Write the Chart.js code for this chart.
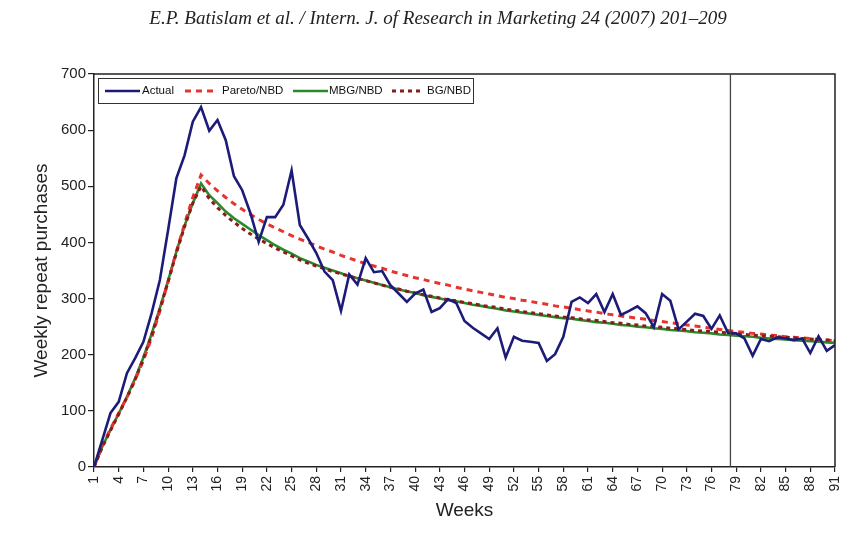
<!DOCTYPE html>
<html><head><meta charset="utf-8">
<script src="https://cdn.jsdelivr.net/npm/chart.js@4.4.0/dist/chart.umd.min.js"></script>
<style>html,body{margin:0;padding:0;background:#fff}#wrap{width:860px;height:535px}</style>
</head><body><div id="wrap"><canvas id="c" width="860" height="535"></canvas></div>
<script>
const weeks = [1,2,3,4,5,6,7,8,9,10,11,12,13,14,15,16,17,18,19,20,21,22,23,24,25,26,27,28,29,30,
  31,32,33,34,35,36,37,38,39,40,41,42,43,44,45,46,47,48,49,50,51,52,53,54,55,56,57,58,59,60,
  61,62,63,64,65,66,67,68,69,70,71,72,73,74,75,76,77,78,79,80,81,82,83,84,85,86,87,88,89,90,91];
const xTickLabels = [1,4,7,10,13,16,19,22,25,28,31,34,37,40,43,46,49,52,55,58,61,64,67,70,73,76,79,82,85,88,91];
const yTickLabels = [0,100,200,300,400,500,600,700];
const seriesNames = ['Actual','Pareto/NBD','MBG/NBD','BG/NBD'];
const actual = [0,48,96,116,167,194,223,274,333,422,514,555,615,641,599,618,582,518,493,452,
  401,445,445,467,528,431,407,381,348,333,278,343,325,372,347,349,324,309,294,309,
  316,276,283,299,292,260,248,238,228,247,195,232,225,223,221,189,201,232,294,302,
  292,308,276,308,271,278,286,274,249,308,296,245,259,273,269,246,270,239,238,229,
  198,228,224,231,229,226,229,203,233,207,217];
const paretoNBD = [0,38,68,96,124,155,190,230,278,330,384,433,480,520,505,492,480,469,459,450,
  441,433,426,419,412,406,400,394,388,383,377,372,367,362,358,354,349,345,341,337,
  334,330,327,324,320,317,314,311,308,305,302,300,297,295,292,290,287,285,283,280,
  278,276,273,271,269,267,265,263,261,259,257,255,253,251,249,247,245,243,241,240,
  238,237,235,234,232,231,230,229,227,226,225];
const mbgNBD = [0,36,66,95,125,158,195,237,283,332,383,430,470,505,484,470,455,443,433,423,
  413,404,395,387,380,372,366,360,355,350,345,340,336,332,328,324,320,316,313,310,
  306,303,300,297,295,292,289,287,284,282,279,277,275,273,271,269,267,265,264,262,
  260,258,257,255,253,252,250,249,247,246,244,243,242,240,239,238,236,235,234,233,
  232,230,229,228,227,226,225,224,223,222,221];
const bgNBD = [0,35,65,94,124,156,193,235,281,330,381,428,470,500,478,462,448,436,425,415,
  406,398,390,383,376,369,363,358,353,348,344,340,336,332,328,324,320,317,313,310,
  307,304,301,298,296,293,291,288,286,284,281,279,277,275,273,271,269,267,266,264,
  262,261,259,257,256,254,253,251,250,249,247,246,245,243,242,241,240,239,237,236,
  235,234,233,232,231,230,229,228,227,226,225];
const calibrationEnd = 78.3;

const toXY = arr => arr.map((v, i) => ({x: weeks[i], y: v}));
const styles = [
  {color:'#1c1c78', width:2.6, dash:[], order:0},
  {color:'#e8332e', width:3, dash:[6,5], order:2},
  {color:'#2a8a2a', width:2.6, dash:[], order:3},
  {color:'#8a1c1c', width:3, dash:[4,4], order:1}
];
const values = [actual, paretoNBD, mbgNBD, bgNBD];

const framePlugin = {
  id: 'frame',
  afterDatasetsDraw(chart) {
    const {ctx, chartArea: ca, scales} = chart;
    ctx.save();
    ctx.strokeStyle = '#222';
    ctx.lineWidth = 1.5;
    ctx.beginPath();
    ctx.moveTo(ca.left, ca.top); ctx.lineTo(ca.right, ca.top); ctx.lineTo(ca.right, ca.bottom);
    ctx.stroke();
    const xp = scales.x.getPixelForValue(calibrationEnd);
    ctx.strokeStyle = '#444';
    ctx.lineWidth = 1.3;
    ctx.beginPath(); ctx.moveTo(xp, ca.top); ctx.lineTo(xp, ca.bottom); ctx.stroke();
    // legend
    const bx = ca.left + 4, by = ca.top + 4, bw = 375, bh = 25;
    ctx.fillStyle = '#fff';
    ctx.fillRect(bx, by, bw, bh);
    ctx.strokeStyle = '#333'; ctx.lineWidth = 1;
    ctx.strokeRect(bx + 0.5, by + 0.5, bw, bh);
    const items = [[7, 42, 44], [87, 120, 124], [195, 230, 231], [294, 325, 329]];
    const cy = by + 13;
    ctx.font = '11.5px "Liberation Sans", Arial, sans-serif';
    ctx.textBaseline = 'middle';
    items.forEach((it, i) => {
      const st = styles[i];
      ctx.strokeStyle = st.color; ctx.lineWidth = st.width; ctx.setLineDash(st.dash);
      ctx.beginPath(); ctx.moveTo(bx + it[0], cy); ctx.lineTo(bx + it[1], cy); ctx.stroke();
      ctx.setLineDash([]);
      ctx.fillStyle = '#111';
      ctx.fillText(seriesNames[i], bx + it[2], cy);
    });
    ctx.restore();
  }
};

new Chart(document.getElementById('c'), {
  type: 'line',
  data: {
    datasets: values.map((arr, i) => ({
      label: seriesNames[i],
      data: toXY(arr),
      borderColor: styles[i].color,
      backgroundColor: styles[i].color,
      borderWidth: styles[i].width,
      borderDash: styles[i].dash,
      order: styles[i].order,
      pointRadius: 0,
      tension: 0,
      fill: false,
      yAxisID: 'y'
    }))
  },
  options: {
    responsive: false,
    animation: false,
    devicePixelRatio: 1,
    layout: {padding: {left: 16, right: 0, top: 0, bottom: 0}},
    plugins: {
      legend: {display: false},
      tooltip: {enabled: false},
      title: {
        display: true,
        text: 'E.P. Batislam et al. / Intern. J. of Research in Marketing 24 (2007) 201–209',
        color: '#222',
        font: {family: '"Liberation Serif", "DejaVu Serif", serif', style: 'italic', size: 19, weight: 'normal'},
        padding: {top: 7.6, bottom: 43.6}
      }
    },
    scales: {
      x: {
        type: 'linear', min: 1, max: 91,
        afterBuildTicks: s => { s.ticks = xTickLabels.map(v => ({value: v})); },
        afterFit: s => { s.height = 68; },
        ticks: {autoSkip: false, minRotation: 90, maxRotation: 90, color: '#222', padding: 4,
          font: {family: '"Liberation Sans", Arial, sans-serif', size: 14}},
        grid: {drawOnChartArea: false, drawTicks: true, tickLength: 5, color: '#222', lineWidth: 1.2},
        border: {color: '#222', width: 1.5},
        title: {display: true, text: 'Weeks', color: '#222', padding: {top: 0, bottom: 12.6},
          font: {family: '"Liberation Sans", Arial, sans-serif', size: 19}}
      },
      y: {
        min: 0, max: 700,
        afterBuildTicks: s => { s.ticks = yTickLabels.map(v => ({value: v})); },
        afterFit: s => { s.width = 78; },
        ticks: {color: '#222', padding: 2, font: {family: '"Liberation Sans", Arial, sans-serif', size: 15}},
        grid: {drawOnChartArea: false, drawTicks: true, tickLength: 6, color: '#222', lineWidth: 1.2},
        border: {color: '#222', width: 1.5},
        title: {display: true, text: 'Weekly repeat purchases', color: '#222', padding: {top: 14.6, bottom: 0},
          font: {family: '"Liberation Sans", Arial, sans-serif', size: 19}}
      },
      yRight: {
        position: 'right', min: 0, max: 700,
        afterFit: s => { s.width = 25; },
        ticks: {display: false},
        grid: {display: false, drawOnChartArea: false},
        border: {display: false}
      }
    }
  },
  plugins: [framePlugin]
});
</script>
</body></html>
